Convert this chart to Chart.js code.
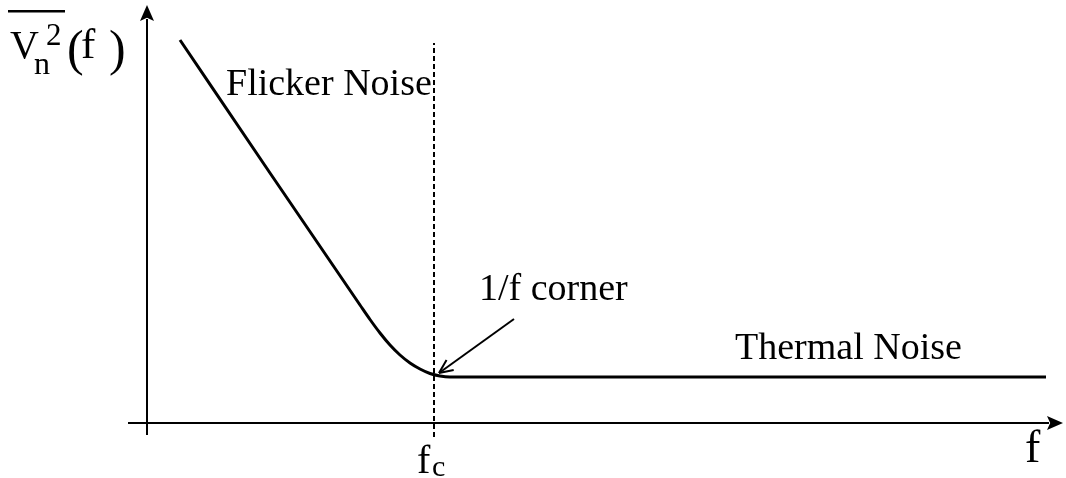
<!DOCTYPE html>
<html>
<head>
<meta charset="utf-8">
<title>1/f noise spectrum</title>
<script src="https://cdn.jsdelivr.net/npm/chart.js@4/dist/chart.umd.min.js"></script>
<style>
  html, body { margin: 0; padding: 0; background: #fff; }
  #wrap { width: 1066px; height: 478px; position: relative; }
</style>
</head>
<body>
<div id="wrap"><canvas id="noise"></canvas></div>
<script>
// Noise spectral density (arbitrary units) versus frequency (arbitrary units)
const FC = 28.7;                       // 1/f corner frequency
const curveF = [3.3, 12.3, 21.3, 22.3, 23.3, 24.3, 25.3, 26.3, 27.3, 28.3, 29.3, 30.3, 89.9];
const curveV = [38.3, 25.0, 11.8, 10.35, 9.0, 7.8, 6.8, 6.0, 5.4, 4.95, 4.7, 4.6, 4.6];

// Axis lines (frequency axis at V = 0, noise axis at f = 0)
const yAxisF = [0, 0];
const yAxisV = [-1.2, 40.4];
const xAxisF = [-1.9, 90.2];
const xAxisV = [0, 0];

// Dotted marker at the corner frequency
const markerV = [-1.4, 38.0];

// Pointer to the corner
const pointerF = [36.7, 29.2];
const pointerV = [10.4, 5.0];

// Region labels
const labelNames = ['Flicker Noise', '1/f corner', 'Thermal Noise'];
const labelF = [7.9, 33.2, 58.8];
const labelV = [32.8, 12.3, 6.4];

const pts = (xs, ys) => xs.map((x, i) => ({ x, y: ys[i] }));
const SERIF = '"Liberation Serif", "DejaVu Serif", serif';

const lineStyle = {
  showLine: true, borderColor: '#000', backgroundColor: '#000',
  pointRadius: 0, borderCapStyle: 'butt', fill: false
};

const decorations = {
  id: 'decorations',
  afterDatasetsDraw(chart) {
    const ctx = chart.ctx;
    const xs = chart.scales.x, ys = chart.scales.y;
    ctx.save();
    ctx.fillStyle = '#000';
    ctx.strokeStyle = '#000';

    // filled arrowheads at the axis ends
    const solidHead = (tipX, tipY, ang, len, half) => {
      const c = Math.cos(ang), s = Math.sin(ang);
      const bx = tipX - c * len, by = tipY - s * len;
      const nx = tipX - c * len * 0.8, ny = tipY - s * len * 0.8;
      ctx.beginPath();
      ctx.moveTo(tipX, tipY);
      ctx.lineTo(bx - s * half, by + c * half);
      ctx.lineTo(nx, ny);
      ctx.lineTo(bx + s * half, by - c * half);
      ctx.closePath();
      ctx.fill();
    };
    const yTop = chart.getDatasetMeta(1).data[1];
    solidHead(yTop.x, ys.getPixelForValue(41.8), -Math.PI / 2, 16, 7);
    const xEnd = chart.getDatasetMeta(2).data[1];
    solidHead(xs.getPixelForValue(91.6), xEnd.y, 0, 16, 7);

    // open arrowhead on the corner pointer
    const p = chart.getDatasetMeta(4).data;
    const ang = Math.atan2(p[1].y - p[0].y, p[1].x - p[0].x);
    ctx.lineWidth = 2;
    ctx.beginPath();
    [-0.42, 0.42].forEach(d => {
      ctx.moveTo(p[1].x, p[1].y);
      ctx.lineTo(p[1].x - Math.cos(ang + d) * 15, p[1].y - Math.sin(ang + d) * 15);
    });
    ctx.stroke();

    // region labels
    ctx.textBaseline = 'alphabetic';
    ctx.textAlign = 'left';
    ctx.font = '38px ' + SERIF;
    labelNames.forEach((t, i) => {
      ctx.fillText(t, xs.getPixelForValue(labelF[i]), ys.getPixelForValue(labelV[i]));
    });

    // f_c under the marker
    const fcX = xs.getPixelForValue(FC);
    ctx.font = '40px ' + SERIF;
    ctx.fillText('f', fcX - 17, 473);
    ctx.font = '30px ' + SERIF;
    ctx.fillText('c', fcX - 2, 476);

    // frequency axis title
    ctx.font = '46px ' + SERIF;
    ctx.fillText('f', 1025, 462);

    // noise axis title: overline V_n^2 (f)
    ctx.font = '40px ' + SERIF;
    ctx.fillText('V', 10, 58);
    ctx.font = '32px ' + SERIF;
    ctx.fillText('n', 34, 74);
    ctx.font = '31px ' + SERIF;
    ctx.fillText('2', 46, 45);
    ctx.font = '50px ' + SERIF;
    ctx.fillText('(', 67, 65);
    ctx.fillText(')', 109, 65);
    ctx.font = '43px ' + SERIF;
    ctx.fillText('f', 81, 58);
    ctx.fillRect(8, 10, 57, 2.5);

    ctx.restore();
  }
};

new Chart(document.getElementById('noise'), {
  type: 'scatter',
  data: {
    datasets: [
      Object.assign({ data: pts(curveF, curveV), borderWidth: 3, cubicInterpolationMode: 'monotone' }, lineStyle),
      Object.assign({ data: pts(yAxisF, yAxisV), borderWidth: 2 }, lineStyle),
      Object.assign({ data: pts(xAxisF, xAxisV), borderWidth: 2 }, lineStyle),
      Object.assign({ data: pts([FC, FC], markerV), borderWidth: 2, borderDash: [5, 3] }, lineStyle),
      Object.assign({ data: pts(pointerF, pointerV), borderWidth: 2 }, lineStyle)
    ]
  },
  options: {
    responsive: true,
    maintainAspectRatio: false,
    animation: false,
    devicePixelRatio: 1,
    layout: { padding: 0 },
    plugins: { legend: { display: false }, tooltip: { enabled: false } },
    scales: {
      x: { type: 'linear', min: -14.7, max: 91.9, display: false },
      y: { type: 'linear', min: -5.5, max: 42.3, display: false }
    }
  },
  plugins: [decorations]
});
</script>
</body>
</html>
